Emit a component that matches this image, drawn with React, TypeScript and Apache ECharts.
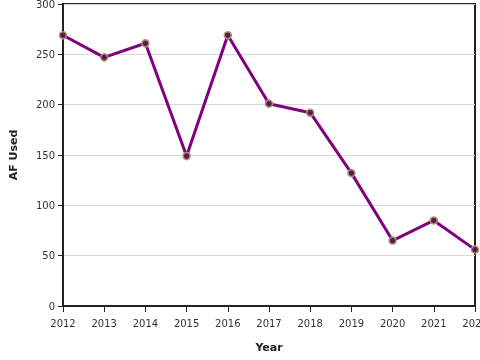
import React, { useEffect, useRef } from "react";
import * as echarts from "echarts";

const years = ["2012", "2013", "2014", "2015", "2016", "2017", "2018", "2019", "2020", "2021", "2022"];
const afUsed = [269, 247, 261, 149, 269, 201, 192, 132, 65, 85, 56];
const yTicks = { min: 0, max: 300, interval: 50 };

export default function App() {
  const ref = useRef<HTMLDivElement>(null);
  useEffect(() => {
    const chart = echarts.init(ref.current!, null, { renderer: "svg" });
    const font = "DejaVu Sans";
    chart.setOption({
      animation: false,
      grid: {
        left: 63, right: 5, top: 4, bottom: 54,
        containLabel: false, outerBoundsMode: "none",
        show: true, borderColor: "#222", borderWidth: 2, backgroundColor: "transparent",
      },
      xAxis: {
        type: "category",
        data: years,
        boundaryGap: false,
        name: "Year",
        nameLocation: "middle",
        nameGap: 36,
        nameTextStyle: { fontFamily: font, fontSize: 11, fontWeight: "bold", color: "#222" },
        axisLine: { lineStyle: { color: "#222", width: 2 } },
        axisTick: { show: true, alignWithLabel: true, length: 6, lineStyle: { color: "#222", width: 1 } },
        axisLabel: { fontFamily: font, fontSize: 10, color: "#333", margin: 12, showMaxLabel: true, hideOverlap: false },
        splitLine: { show: false },
      },
      yAxis: {
        type: "value",
        min: yTicks.min,
        max: yTicks.max,
        interval: yTicks.interval,
        name: "AF Used",
        nameLocation: "middle",
        nameGap: 44,
        nameTextStyle: { fontFamily: font, fontSize: 11, fontWeight: "bold", color: "#222" },
        axisLine: { show: true, lineStyle: { color: "#222", width: 2 } },
        axisTick: { show: true, length: 5, lineStyle: { color: "#222", width: 1 } },
        axisLabel: { fontFamily: font, fontSize: 10, color: "#333", margin: 8 },
        splitLine: { show: true, lineStyle: { color: "#d8d8d8", width: 1 } },
      },
      series: [
        {
          type: "line",
          data: afUsed,
          symbol: "circle",
          symbolSize: 7,
          lineStyle: { color: "#800080", width: 3 },
          itemStyle: { color: "#5c1a52", borderColor: "#a89470", borderWidth: 1.5 },
          z: 3,
        },
      ],
    });
    return () => chart.dispose();
  }, []);
  return <div ref={ref} style={{ position: "fixed", left: 0, top: 0, width: 480, height: 360 }} />;
}
